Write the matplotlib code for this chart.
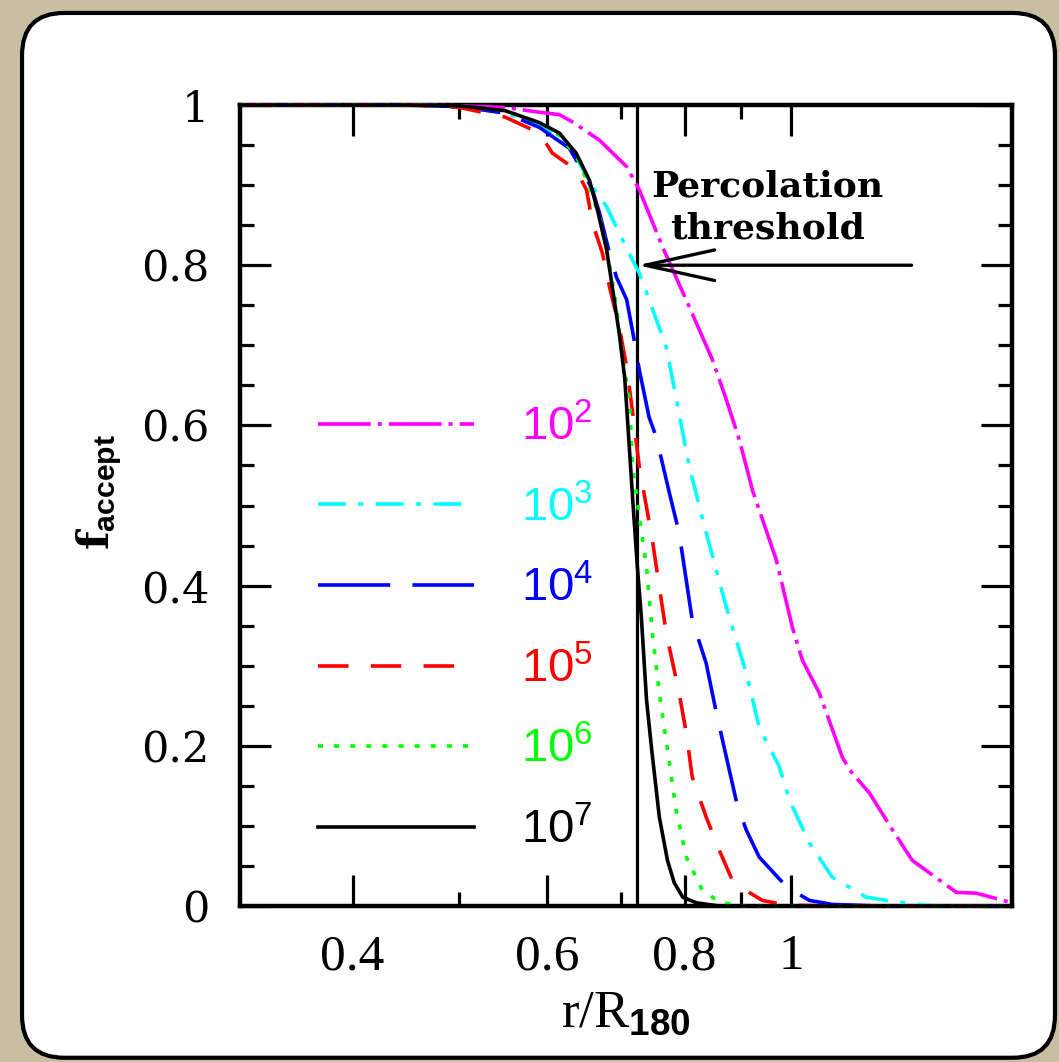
import numpy as np
import matplotlib
matplotlib.use("Agg")
import matplotlib.pyplot as plt
from matplotlib.patches import FancyBboxPatch
from matplotlib.ticker import FixedLocator, NullFormatter, FixedFormatter

plt.rcParams['mathtext.fontset'] = 'custom'
plt.rcParams['mathtext.rm'] = 'Liberation Sans'
plt.rcParams['mathtext.bf'] = 'Liberation Sans:bold'
plt.rcParams['lines.scale_dashes'] = False

# data: r/R180 vs accepted fraction, one curve per number of particles
labels = ["10^{2}", "10^{3}", "10^{4}", "10^{5}", "10^{6}", "10^{7}"]
colors = ["#ff00ff", "#00ffff", "#0000ff", "#ff0000", "#00ff00", "#000000"]

x_1e2 = [0.316, 0.45, 0.50, 0.55, 0.591, 0.616, 0.633, 0.670, 0.709, 0.728, 0.764, 0.808, 0.848, 0.873,
         0.897, 0.922, 0.969, 1.002, 1.023, 1.060, 1.112, 1.129, 1.177, 1.235, 1.287, 1.411, 1.471, 1.585]
y_1e2 = [1.0, 1.0, 0.999, 0.997, 0.991, 0.988, 0.979, 0.956, 0.923, 0.894, 0.823, 0.748, 0.682, 0.632,
         0.582, 0.519, 0.432, 0.348, 0.307, 0.266, 0.186, 0.170, 0.141, 0.095, 0.057, 0.017, 0.016, 0.004]

x_1e3 = [0.316, 0.45, 0.50, 0.55, 0.591, 0.616, 0.642, 0.660, 0.680, 0.698, 0.718, 0.728, 0.743, 0.770,
         0.791, 0.808, 0.837, 0.873, 0.910, 0.935, 0.975, 0.996, 1.038, 1.089, 1.169, 1.245, 1.35, 1.585]
y_1e3 = [1.0, 1.0, 0.998, 0.99, 0.975, 0.960, 0.928, 0.898, 0.873, 0.840, 0.806, 0.790, 0.757, 0.698,
         0.615, 0.548, 0.466, 0.373, 0.291, 0.223, 0.174, 0.132, 0.079, 0.036, 0.011, 0.005, 0.0, 0.0]

x_1e4 = [0.316, 0.45, 0.50, 0.55, 0.591, 0.629, 0.646, 0.660, 0.670, 0.684, 0.694, 0.709, 0.721, 0.728,
         0.743, 0.754, 0.775, 0.791, 0.813, 0.837, 0.855, 0.892, 0.910, 0.935, 0.990, 1.038, 1.089, 1.2, 1.585]
y_1e4 = [1.0, 1.0, 0.998, 0.99, 0.972, 0.946, 0.919, 0.894, 0.865, 0.815, 0.785, 0.757, 0.703, 0.669,
         0.610, 0.586, 0.516, 0.466, 0.357, 0.303, 0.241, 0.129, 0.095, 0.061, 0.024, 0.007, 0.002, 0.0, 0.0]

x_1e5 = [0.316, 0.45, 0.50, 0.55, 0.591, 0.607, 0.638, 0.652, 0.660, 0.674, 0.684, 0.698, 0.709, 0.718,
         0.728, 0.748, 0.770, 0.791, 0.803, 0.813, 0.837, 0.860, 0.884, 0.903, 0.941, 0.990, 1.1, 1.585]
y_1e5 = [1.0, 1.0, 0.997, 0.985, 0.965, 0.940, 0.919, 0.894, 0.853, 0.815, 0.773, 0.723, 0.673, 0.615,
         0.548, 0.457, 0.341, 0.266, 0.216, 0.161, 0.111, 0.070, 0.032, 0.022, 0.007, 0.001, 0.0, 0.0]

x_1e6 = [0.316, 0.45, 0.50, 0.55, 0.591, 0.616, 0.638, 0.656, 0.670, 0.681, 0.694, 0.703, 0.713, 0.718,
         0.728, 0.739, 0.748, 0.759, 0.772, 0.786, 0.803, 0.830, 0.860, 0.9, 1.585]
y_1e6 = [1.0, 1.0, 0.999, 0.993, 0.978, 0.962, 0.937, 0.898, 0.860, 0.815, 0.748, 0.685, 0.632, 0.548,
         0.486, 0.423, 0.341, 0.266, 0.195, 0.120, 0.061, 0.020, 0.005, 0.0, 0.0]

x_1e7 = [0.316, 0.45, 0.50, 0.55, 0.591, 0.616, 0.638, 0.656, 0.667, 0.680, 0.688, 0.698, 0.706, 0.710,
         0.718, 0.725, 0.731, 0.739, 0.747, 0.759, 0.772, 0.783, 0.797, 0.820, 0.86, 1.585]
y_1e7 = [1.0, 1.0, 0.999, 0.993, 0.978, 0.965, 0.940, 0.906, 0.869, 0.819, 0.773, 0.715, 0.660, 0.610,
         0.507, 0.423, 0.361, 0.257, 0.195, 0.111, 0.057, 0.029, 0.011, 0.004, 0.0, 0.0]

xs = [x_1e2, x_1e3, x_1e4, x_1e5, x_1e6, x_1e7]
ys = [y_1e2, y_1e3, y_1e4, y_1e5, y_1e6, y_1e7]

dash_styles = [(0, (38, 5, 3, 5)), (0, (20, 9, 3.6, 9)), (0, (52, 16)),
               (0, (22, 16)), (0, (3.6, 8)), "-"]

x_ticks = [0.4, 0.6, 0.8, 1.0]
x_ticklabels = ["0.4", "0.6", "0.8", "1"]
x_minor = [0.5, 0.7, 0.9]
y_ticks = [0, 0.2, 0.4, 0.6, 0.8, 1.0]
y_ticklabels = ["0", "0.2", "0.4", "0.6", "0.8", "1"]

threshold = 0.725

fig = plt.figure(figsize=(10.59, 10.62), dpi=100)
fig.patch.set_facecolor("#c9bea2")

panel = FancyBboxPatch((0.0208, 0.004), 0.9754, 0.9838, boxstyle="round,pad=0,rounding_size=0.04",
                       transform=fig.transFigure, facecolor="white", edgecolor="black",
                       linewidth=3.0, zorder=1)
fig.patches.append(panel)

ax = fig.add_axes([0.2266, 0.1469, 0.729, 0.7542])
ax.set_facecolor("white")
ax.set_zorder(2)

for x, y, c, ls, lab in zip(xs, ys, colors, dash_styles, labels):
    ax.plot(x, y, color=c, linestyle=ls, linewidth=2.6, dash_capstyle="butt",
            label=r"$\mathrm{" + lab + "}$", clip_on=False, zorder=3)

ax.axvline(threshold, color="black", linewidth=2.3, zorder=2.6)

ax.annotate("", xy=(threshold, 0.8), xytext=(1.285, 0.8),
            arrowprops=dict(arrowstyle="->,head_length=2.5,head_width=0.55", color="black",
                            linewidth=2.4, shrinkA=0, shrinkB=0, mutation_scale=20))
ax.text(0.952, 0.872, "Percolation\nthreshold", ha="center", va="center", fontsize=26,
        family="DejaVu Serif", weight="bold", linespacing=1.3)

ax.set_xscale("log")
ax.set_xlim(10 ** -0.5, 10 ** 0.2)
ax.set_ylim(0, 1)

ax.xaxis.set_major_locator(FixedLocator(x_ticks))
ax.xaxis.set_major_formatter(FixedFormatter(x_ticklabels))
ax.xaxis.set_minor_locator(FixedLocator(x_minor))
ax.xaxis.set_minor_formatter(NullFormatter())
ax.yaxis.set_major_locator(FixedLocator(y_ticks))
ax.yaxis.set_major_formatter(FixedFormatter(y_ticklabels))
ax.yaxis.set_minor_locator(FixedLocator(np.arange(0, 1.001, 0.05)))

ax.tick_params(which="both", direction="in", top=True, right=True, width=2.3, color="black")
ax.tick_params(which="major", length=22)
ax.tick_params(which="minor", length=10)
ax.tick_params(axis="x", which="major", pad=20)
ax.tick_params(axis="y", which="major", pad=22)
for lbl in ax.get_xticklabels():
    lbl.set_family("Liberation Serif")
    lbl.set_fontsize(37)
for lbl in ax.get_yticklabels():
    lbl.set_family("DejaVu Serif")
    lbl.set_fontsize(31)

for sp in ax.spines.values():
    sp.set_linewidth(3.2)

ax.set_xlabel(r"r/R$_{\mathbf{180}}$", family="Liberation Serif", fontsize=38)
ax.xaxis.set_label_coords(0.50, -0.105)
ax.set_ylabel(r"f$_{\mathbf{accept}}$", family="DejaVu Serif", weight="bold", fontsize=31)
ax.yaxis.set_label_coords(-0.15, 0.517)

leg = ax.legend(loc="upper left", bbox_to_anchor=(0.101, 0.625), frameon=False,
                handlelength=3.3, handletextpad=1.0, labelspacing=0.75, fontsize=34,
                labelcolor="linecolor", borderpad=0, borderaxespad=0)

fig.savefig("out.png", dpi=100, facecolor=fig.get_facecolor())
